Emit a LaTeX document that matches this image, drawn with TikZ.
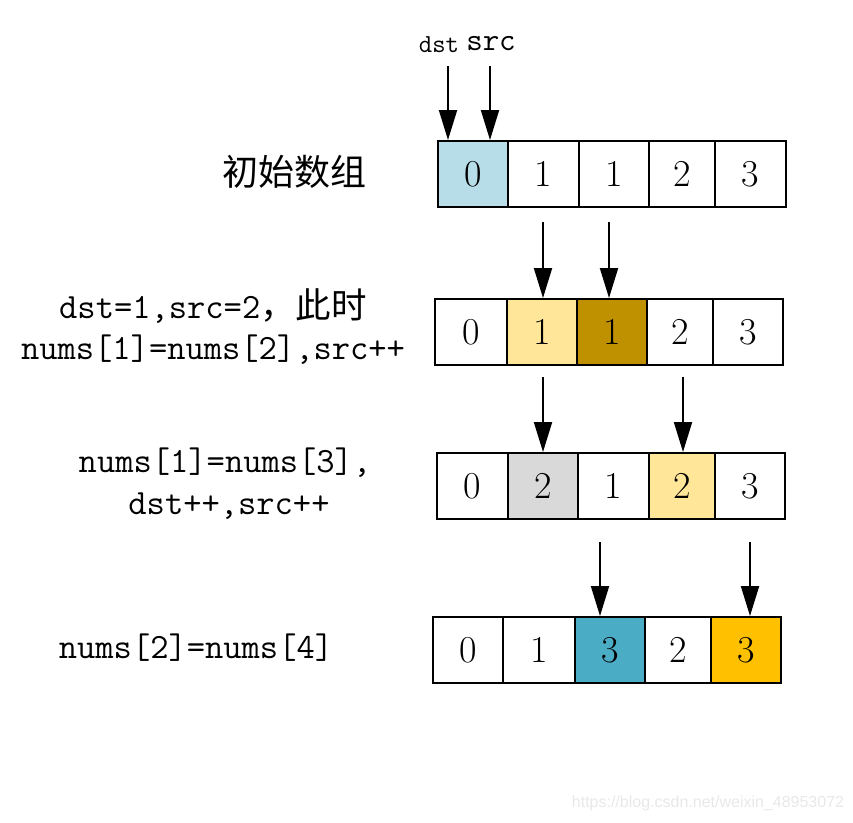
\documentclass[tikz,border=0pt]{standalone}
\usepackage{fontspec}
\newfontfamily\cjk{Noto Sans CJK SC}
\newfontfamily\wmfont{Liberation Sans}
\usetikzlibrary{arrows.meta}
\definecolor{cblue}{HTML}{B7DEE8}
\definecolor{cyel}{HTML}{FFE699}
\definecolor{cgold}{HTML}{BF9000}
\definecolor{cgray}{HTML}{D9D9D9}
\definecolor{cteal}{HTML}{4BACC6}
\definecolor{corange}{HTML}{FFC000}
\begin{document}
\begin{tikzpicture}[x=1pt,y=-1pt,
  cell/.style={draw, line width=2pt, minimum height=66pt, inner sep=0pt,
    font=\fontsize{38}{44}\selectfont\rmfamily},
  ptr/.style={line width=2pt, -{Triangle[length=30pt,width=18pt]}},
  lbl/.style={font=\fontsize{35.5}{44}\selectfont\ttfamily, align=center, inner sep=0pt}]
\useasboundingbox (0,0) rectangle (853,822);

% row 1
\node[cell, fill=cblue, minimum width=70pt] (r1c1) at (473,174) {0};
\node[cell, minimum width=71pt] (r1c2) at (543.5,174) {1};
\node[cell, minimum width=70pt] (r1c3) at (614,174) {1};
\node[cell, minimum width=66pt] (r1c4) at (682,174) {2};
\node[cell, minimum width=71pt] (r1c5) at (750.5,174) {3};

% row 2
\node[cell, minimum width=72pt] (r2c1) at (471,332) {0};
\node[cell, fill=cyel, minimum width=70pt] (r2c2) at (542,332) {1};
\node[cell, fill=cgold, minimum width=70pt] (r2c3) at (612,332) {1};
\node[cell, minimum width=66pt] (r2c4) at (680,332) {2};
\node[cell, minimum width=70pt] (r2c5) at (748,332) {3};

% row 3
\node[cell, minimum width=71pt] (r3c1) at (472.5,486) {0};
\node[cell, fill=cgray, minimum width=70pt] (r3c2) at (543,486) {2};
\node[cell, minimum width=71pt] (r3c3) at (613.5,486) {1};
\node[cell, fill=cyel, minimum width=66pt] (r3c4) at (682,486) {2};
\node[cell, minimum width=70pt] (r3c5) at (750,486) {3};

% row 4
\node[cell, minimum width=70pt] (r4c1) at (468,650) {0};
\node[cell, minimum width=72pt] (r4c2) at (539,650) {1};
\node[cell, fill=cteal, minimum width=70pt] (r4c3) at (610,650) {3};
\node[cell, minimum width=66pt] (r4c4) at (678,650) {2};
\node[cell, fill=corange, minimum width=70pt] (r4c5) at (746,650) {3};

% pointer labels
\node[font=\fontsize{26}{30}\selectfont\ttfamily, inner sep=0pt] (dst) at (439,45) {dst};
\node[font=\fontsize{32}{36}\selectfont\ttfamily, inner sep=0pt] (src) at (491,44) {src};

% arrows
\coordinate (a1) at (448,66);
\coordinate (a2) at (490,66);
\draw[ptr] (a1) -- (a1 |- r1c1.north);
\draw[ptr] (a2) -- (a2 |- r1c1.north);

\coordinate (b1) at (543,222);
\coordinate (b2) at (609,222);
\draw[ptr] (b1) -- (b1 |- r2c2.north);
\draw[ptr] (b2) -- (b2 |- r2c3.north);

\coordinate (c1) at (543,377);
\coordinate (c2) at (683,377);
\draw[ptr] (c1) -- (c1 |- r3c2.north);
\draw[ptr] (c2) -- (c2 |- r3c4.north);

\coordinate (d1) at (600,542);
\coordinate (d2) at (750,542);
\draw[ptr] (d1) -- (d1 |- r4c3.north);
\draw[ptr] (d2) -- (d2 |- r4c5.north);

% left labels
\node[font=\fontsize{36}{40}\selectfont\cjk, inner sep=0pt] (t1) at (294,172) {初始数组};
\node[lbl] (t2a) at (213,306) {dst=1,src=2{\cjk，此时}};
\node[lbl] (t2b) at (213,350) {nums[1]=nums[2],src++};
\node[lbl] (t3a) at (225,463) {nums[1]=nums[3],};
\node[lbl] (t3b) at (229,506) {dst++,src++};
\node[lbl] (t4) at (196,648) {nums[2]=nums[4]};

% watermark
\node[font=\fontsize{16}{18}\selectfont\wmfont, text=black!9, inner sep=0pt] (wm) at (708,803) {https://blog.csdn.net/weixin\_48953072};
\end{tikzpicture}
\end{document}
